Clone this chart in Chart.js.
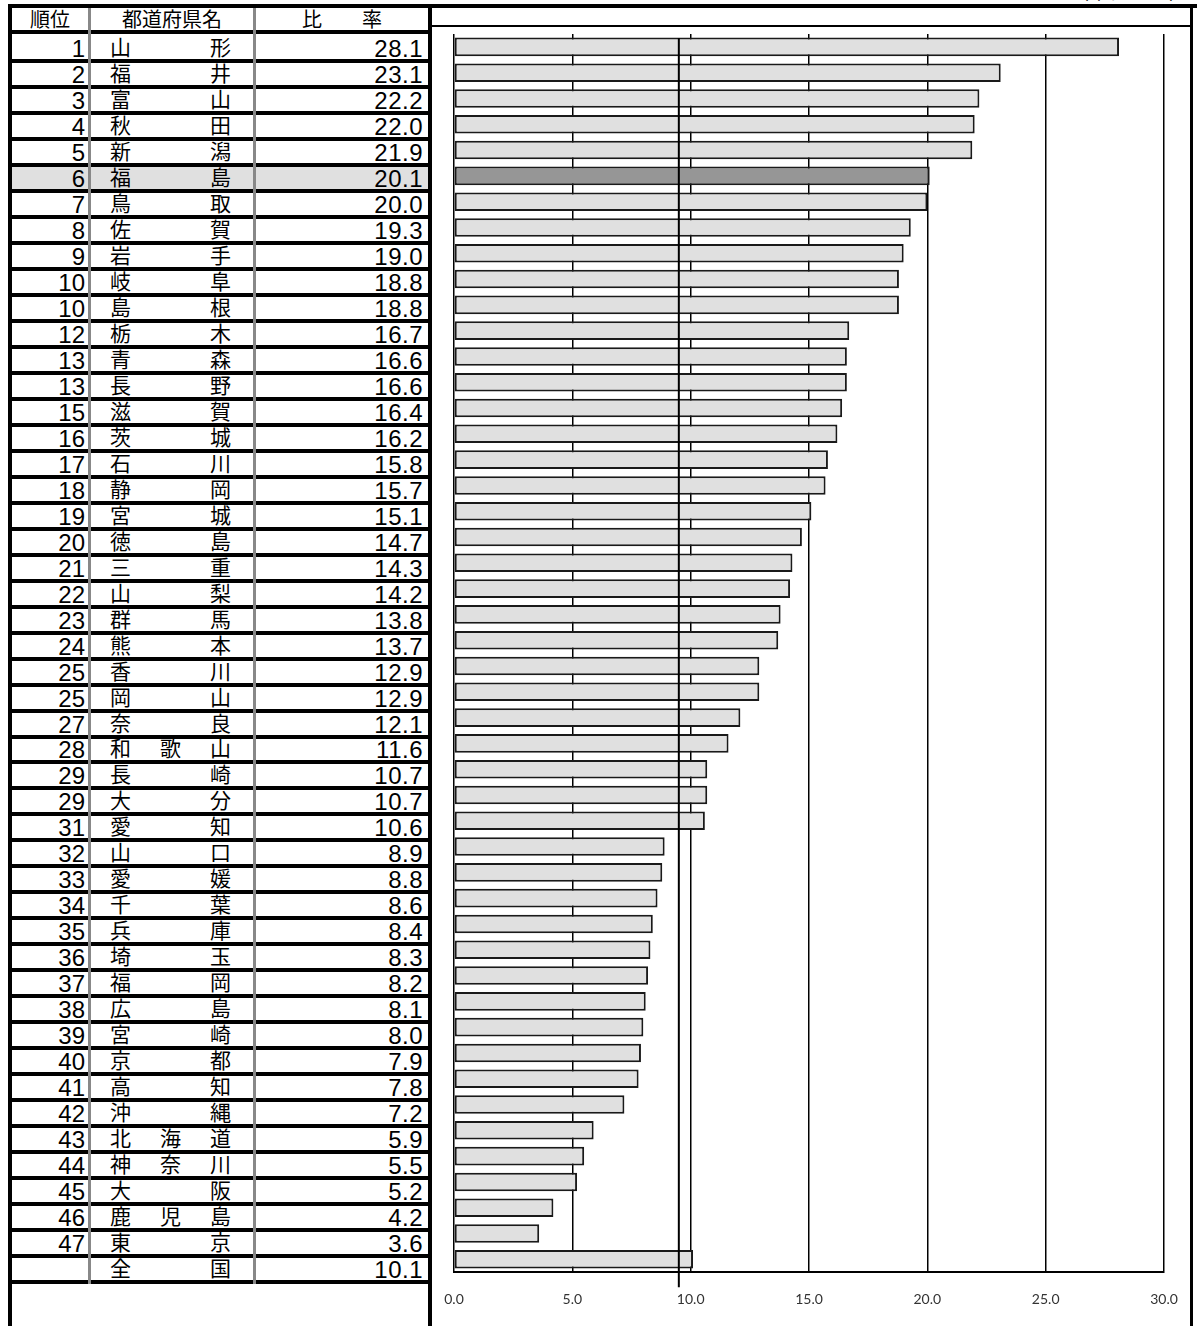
<!DOCTYPE html>
<html>
<head>
<meta charset="utf-8">
<script src="https://cdn.jsdelivr.net/npm/chart.js@4.4.1/dist/chart.umd.min.js"></script>
<style>
  body { margin: 0; width: 1197px; height: 1326px; position: relative; overflow: hidden; background: #fff;
         font-family: "Noto Sans CJK JP", sans-serif; color: #000; }
  .blk { position: absolute; background: #000; }
  .sep { position: absolute; background: #888; width: 3px; }
  .hl { position: absolute; background: #e0e0e0; }
  .txt { position: absolute; white-space: nowrap; line-height: 1; }
  .num { font-family: "Liberation Sans", Arial, sans-serif; font-size: 24px; text-align: right; }
  .kan { font-size: 21px; }
  .name { display: flex; justify-content: space-between; }
  #chartBox { position: absolute; left: 432px; top: 28px; }
</style>
</head>
<body>
<div id="table"></div>
<div id="chartBox"><canvas id="rateChart" width="758" height="1302"></canvas></div>

<script>
// --- data ---
const ranks = [1, 2, 3, 4, 5, 6, 7, 8, 9, 10, 10, 12, 13, 13, 15, 16, 17, 18, 19, 20, 21, 22, 23, 24,
               25, 25, 27, 28, 29, 29, 31, 32, 33, 34, 35, 36, 37, 38, 39, 40, 41, 42, 43, 44, 45, 46, 47, ''];
const prefNames = ['山形', '福井', '富山', '秋田', '新潟', '福島', '鳥取', '佐賀', '岩手', '岐阜', '島根', '栃木',
                   '青森', '長野', '滋賀', '茨城', '石川', '静岡', '宮城', '徳島', '三重', '山梨', '群馬', '熊本',
                   '香川', '岡山', '奈良', '和歌山', '長崎', '大分', '愛知', '山口', '愛媛', '千葉', '兵庫', '埼玉',
                   '福岡', '広島', '宮崎', '京都', '高知', '沖縄', '北海道', '神奈川', '大阪', '鹿児島', '東京', '全国'];
const ratios = [28.1, 23.1, 22.2, 22.0, 21.9, 20.1, 20.0, 19.3, 19.0, 18.8, 18.8, 16.7,
                16.6, 16.6, 16.4, 16.2, 15.8, 15.7, 15.1, 14.7, 14.3, 14.2, 13.8, 13.7,
                12.9, 12.9, 12.1, 11.6, 10.7, 10.7, 10.6, 8.9, 8.8, 8.6, 8.4, 8.3,
                8.2, 8.1, 8.0, 7.9, 7.8, 7.2, 5.9, 5.5, 5.2, 4.2, 3.6, 10.1];
const headers = ['順位', '都道府県名', '比　　率'];
const unitLabel = '（単位：％）';
const highlightIndex = 5;      // 福島
const refLineValue = 9.5;      // vertical reference line
const axisMin = 0, axisMax = 30, axisStep = 5;

document.addEventListener('DOMContentLoaded', () => {
    const table = document.getElementById('table');

    function add(cls, style, text) {
        const d = document.createElement('div');
        d.className = cls;
        Object.assign(d.style, style);
        if (text !== undefined) d.textContent = text;
        table.appendChild(d);
        return d;
    }

    // frame
    add('blk', { left: '8px', top: '4px', width: '1189px', height: '4px' });
    add('blk', { left: '8px', top: '4px', width: '4px', height: '1322px' });
    add('blk', { left: '428px', top: '4px', width: '4px', height: '1322px' });
    add('blk', { left: '1190px', top: '4px', width: '3px', height: '1322px' });
    add('blk', { left: '432px', top: '24.5px', width: '758px', height: '2.5px' });
    add('blk', { left: '12px', top: '30px', width: '416px', height: '4px' });

    // unit label, clipped at the top edge like the reference
    add('txt kan', { right: '8px', top: '-19px', fontSize: '20px' }, unitLabel);

    // header
    add('txt kan', { left: '12px', width: '76px', top: '9px', fontSize: '20px', textAlign: 'center' }, headers[0]);
    add('txt kan', { left: '91px', width: '162px', top: '9px', fontSize: '20px', textAlign: 'center' }, headers[1]);
    add('txt kan', { left: '256px', width: '172px', top: '9px', fontSize: '20px', textAlign: 'center' }, headers[2]);

    const rowPitch = 25.97;
    let prevBottom = 34;
    for (let i = 0; i < prefNames.length; i++) {
        const lineBottom = 63.3 + rowPitch * i;
        const lineTop = lineBottom - 4;
        if (i === highlightIndex) {
            add('hl', { left: '12px', top: prevBottom + 'px', width: '416px', height: (lineTop - prevBottom) + 'px' });
        }
        add('blk', { left: '12px', top: lineTop + 'px', width: '416px', height: '4px' });

        add('txt num', { left: '12px', width: '73px', top: (lineTop - 22) + 'px' }, String(ranks[i]));
        add('txt num', { left: '256px', width: '167px', top: (lineTop - 22) + 'px', letterSpacing: '0.5px' }, ratios[i].toFixed(1));

        const nameBox = add('txt kan name', { left: '110px', width: '121px', top: (lineTop - 23) + 'px' });
        for (const ch of prefNames[i]) {
            const s = document.createElement('span');
            s.textContent = ch;
            nameBox.appendChild(s);
        }
        prevBottom = lineBottom;
    }

    // column separators
    add('sep', { left: '88px', top: '8px', height: '1276px' });
    add('sep', { left: '253px', top: '8px', height: '1276px' });

    // --- chart ---
    const refLinePlugin = {
        id: 'refLine',
        afterDatasetsDraw(chart) {
            const c = chart.ctx;
            const x = chart.scales.x.getPixelForValue(refLineValue);
            const { top, bottom } = chart.chartArea;
            c.save();
            c.strokeStyle = '#000';
            c.lineWidth = 2;
            c.beginPath();
            c.moveTo(x, top + 4);
            c.lineTo(x, bottom + 15);
            c.stroke();
            c.restore();
        }
    };

    const ctx = document.getElementById('rateChart').getContext('2d');
    new Chart(ctx, {
        type: 'bar',
        data: {
            labels: prefNames,
            datasets: [{
                data: ratios,
                backgroundColor: ratios.map((v, i) => i === highlightIndex ? '#969696' : '#e0e0e0'),
                borderColor: '#1a1a1a',
                borderWidth: 2,
                borderSkipped: false,
                barPercentage: 0.72,
                categoryPercentage: 1
            }]
        },
        options: {
            indexAxis: 'y',
            responsive: false,
            animation: false,
            layout: { padding: { left: 22, right: 26, top: 6, bottom: 19 } },
            plugins: { legend: { display: false }, tooltip: { enabled: false } },
            scales: {
                x: {
                    min: axisMin,
                    max: axisMax,
                    ticks: {
                        stepSize: axisStep,
                        callback: v => Number(v).toFixed(1),
                        font: { family: 'Lato', size: 14 },
                        color: '#333',
                        padding: 3
                    },
                    // invisible tick marks only push the labels down
                    grid: { color: '#000', lineWidth: 1.5, drawTicks: true, tickLength: 16, tickColor: 'rgba(0,0,0,0)' },
                    border: { display: true, color: '#000', width: 2 }
                },
                y: { display: false }
            }
        },
        plugins: [refLinePlugin]
    });
});
</script>
</body>
</html>
